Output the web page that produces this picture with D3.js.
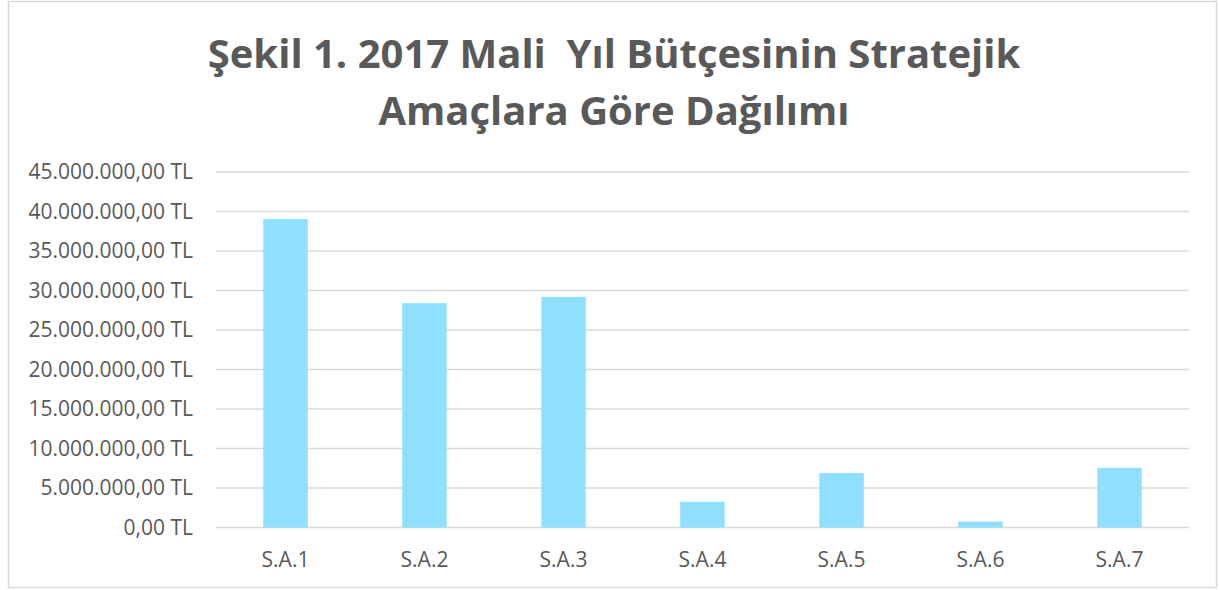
<!DOCTYPE html>
<html>
<head>
<meta charset="utf-8">
<script src="https://cdn.jsdelivr.net/npm/d3@7"></script>
<style>
  body { margin: 0; background: #fff; }
  text { font-family: "Open Sans", sans-serif; fill: #595959; }
</style>
</head>
<body>
<svg width="1219" height="590"></svg>
<script>
// chart data
const categories = ['S.A.1', 'S.A.2', 'S.A.3', 'S.A.4', 'S.A.5', 'S.A.6', 'S.A.7'];
const values = [39050000, 28400000, 29200000, 3250000, 6900000, 750000, 7550000];
const yTicks = [0, 5000000, 10000000, 15000000, 20000000, 25000000, 30000000, 35000000, 40000000, 45000000];
const titleLines = ['Şekil 1. 2017 Mali  Yıl Bütçesinin Stratejik', 'Amaçlara Göre Dağılımı'];

const data = categories.map((c, i) => ({ name: c, value: values[i] }));

const svg = d3.select('svg');

// outer border
svg.append('rect')
  .attr('x', 8.5).attr('y', 1.5)
  .attr('width', 1208).attr('height', 586)
  .attr('fill', '#fff')
  .attr('stroke', '#d9d9d9')
  .attr('stroke-width', 1.5);

// title
svg.append('g')
  .selectAll('text')
  .data(titleLines)
  .join('text')
  .attr('x', 614)
  .attr('y', (d, i) => 68 + i * 57)
  .attr('text-anchor', 'middle')
  .style('font-size', '40px')
  .style('font-weight', 'bold')
  .style('white-space', 'pre')
  .text((d) => d);

const plotLeft = 216, plotRight = 1189, plotTop = 172, plotBottom = 527.5;

const y = d3.scaleLinear().domain([0, 45000000]).range([plotBottom, plotTop]);

const x = d3.scaleBand()
  .domain(categories)
  .range([plotLeft, plotRight])
  .paddingInner(0.68)
  .paddingOuter(0.34);

// format like "45.000.000,00 TL"
const fmt = d3.formatLocale({ decimal: ',', thousands: '.', grouping: [3], currency: ['', ' TL'] }).format(',.2f');

// gridlines
svg.append('g')
  .selectAll('line')
  .data(yTicks)
  .join('line')
  .attr('x1', plotLeft).attr('x2', plotRight)
  .attr('y1', (d) => y(d)).attr('y2', (d) => y(d))
  .attr('stroke', '#d9d9d9')
  .attr('stroke-width', 1.5);

// y labels
svg.append('g')
  .selectAll('text')
  .data(yTicks)
  .join('text')
  .attr('x', 193)
  .attr('y', (d) => y(d))
  .attr('dy', '0.35em')
  .attr('text-anchor', 'end')
  .style('font-size', '21px')
  .text((d) => fmt(d) + ' TL');

// bars
svg.append('g')
  .selectAll('rect')
  .data(data)
  .join('rect')
  .attr('x', (d) => x(d.name))
  .attr('y', (d) => y(d.value))
  .attr('width', x.bandwidth())
  .attr('height', (d) => y(0) - y(d.value))
  .attr('fill', '#8ee0fe');

// x labels
svg.append('g')
  .selectAll('text')
  .data(categories)
  .join('text')
  .attr('x', (d) => x(d) + x.bandwidth() / 2)
  .attr('y', 560)
  .attr('dy', '0.35em')
  .attr('text-anchor', 'middle')
  .style('font-size', '21px')
  .text((d) => d);
</script>
</body>
</html>
